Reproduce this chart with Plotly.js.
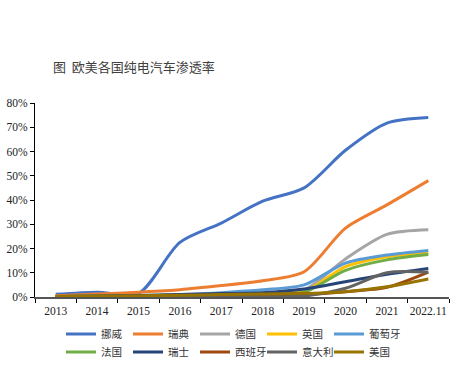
<!DOCTYPE html>
<html><head><meta charset="utf-8">
<script src="https://cdn.plot.ly/plotly-3.0.1.min.js"></script>
<style>body{margin:0;background:#fff}#c{width:475px;height:367px}</style>
</head><body><div id="c"></div>
<script>
const categories = ['2013','2014','2015','2016','2017','2018','2019','2020','2021','2022.11'];
const names = ['挪威','瑞典','德国','英国','葡萄牙','法国','瑞士','西班牙','意大利','美国'];
const colors = ['#4472C4','#ED7D31','#A5A5A5','#FFC000','#5B9BD5','#70AD47','#264478','#9E480E','#636363','#997300'];
const norway   = [0.011,0.020,0.015,0.225,0.305,0.395,0.450,0.605,0.717,0.740];
const sweden   = [0.005,0.012,0.020,0.030,0.047,0.067,0.104,0.284,0.380,0.480];
const germany  = [0.002,0.003,0.004,0.006,0.008,0.010,0.028,0.157,0.258,0.277];
const uk       = [0.001,0.002,0.004,0.006,0.010,0.015,0.022,0.125,0.166,0.183];
const portugal = [0.001,0.002,0.004,0.010,0.018,0.030,0.050,0.140,0.173,0.192];
const france   = [0.002,0.004,0.006,0.009,0.012,0.015,0.020,0.110,0.153,0.175];
const swiss    = [0.002,0.004,0.006,0.010,0.014,0.018,0.033,0.063,0.094,0.118];
const spain    = [0.001,0.002,0.002,0.003,0.004,0.005,0.010,0.022,0.040,0.103];
const italy    = [0.000,0.000,0.001,0.001,0.001,0.001,0.004,0.036,0.100,0.102];
const usa      = [0.002,0.004,0.005,0.007,0.010,0.012,0.015,0.022,0.042,0.074];
const series = [norway,sweden,germany,uk,portugal,france,swiss,spain,italy,usa];

const traces = series.map((s,i)=>({
  x: categories, y: s, name: names[i], type:'scatter', mode:'lines',
  line:{color:colors[i], width:3, shape:'spline', smoothing:0.8},
  legend: i<5 ? 'legend' : 'legend2', legendrank: i
}));
// spacer entries (no visible mark) so the last legend label in each row is not clipped
['legend','legend2'].forEach((lg,k)=>traces.push({
  x:[categories[0]], y:[null], name:' ', type:'scatter', mode:'lines', line:{color:'rgba(0,0,0,0)', width:0},
  legend: lg, legendrank: 100+k, hoverinfo:'skip', showlegend:true
}));

const legFont = {family:'"Noto Sans CJK SC", sans-serif', size:10.5, color:'#333'};
const legBase = {orientation:'h', xref:'container', yref:'container', xanchor:'left', yanchor:'middle',
    font:legFont, entrywidth:22, entrywidthmode:'pixels', itemwidth:30, tracegroupgap:0, bgcolor:'rgba(0,0,0,0)'};
const tickFont = {family:'"Liberation Serif", serif', size:11.5, color:'#222'};
const layout = {
  width:475, height:367,
  margin:{l:35, r:26, t:103, b:70},
  paper_bgcolor:'#fff', plot_bgcolor:'#fff',
  title:{text:'图  欧美各国纯电汽车渗透率', xref:'container', yref:'container', x:53/475, xanchor:'left', y:1-67/367, yanchor:'middle',
    font:{family:'"Noto Sans CJK SC", sans-serif', size:13, color:'#404040'}},
  xaxis:{type:'category', range:[-0.5,9.5], tickson:'boundaries', ticks:'outside', ticklen:4, tickcolor:'#000', tickangle:0,
    ticklabelstandoff:3,
    showline:true, linecolor:'#555', linewidth:1.5, showgrid:false, zeroline:false, tickfont:tickFont},
  yaxis:{range:[0,0.8], dtick:0.1, tickformat:'.0%', ticks:'outside', ticklen:4, tickcolor:'#000',
    showline:true, linecolor:'#000', linewidth:1, showgrid:false, zeroline:false, tickfont:tickFont},
  legend:Object.assign({}, legBase, {x:61/475, y:1-334/367}),
  legend2:Object.assign({}, legBase, {x:61/475, y:1-352/367}),
  showlegend:true
};
Plotly.newPlot('c', traces, layout, {staticPlot:true, displayModeBar:false});
</script></body></html>
